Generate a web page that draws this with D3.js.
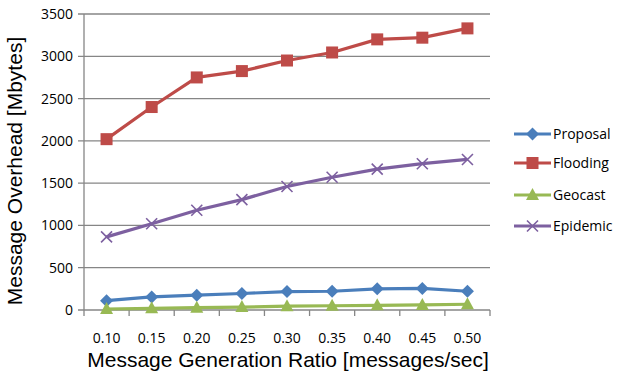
<!DOCTYPE html>
<html>
<head>
<meta charset="utf-8">
<script src="https://cdn.jsdelivr.net/npm/d3@7"></script>
<style>
  html, body { margin: 0; padding: 0; background: #fff; }
  svg { display: block; }
</style>
</head>
<body>
<svg id="chart" width="617" height="373"></svg>
<script>
// Message overhead per generation ratio
const ratios = ["0.10", "0.15", "0.20", "0.25", "0.30", "0.35", "0.40", "0.45", "0.50"];
const proposal = [110, 155, 175, 195, 218, 222, 250, 255, 222];
const flooding = [2020, 2400, 2750, 2825, 2950, 3045, 3200, 3220, 3330];
const geocast  = [12, 20, 28, 35, 45, 50, 55, 60, 68];
const epidemic = [865, 1020, 1180, 1305, 1460, 1570, 1665, 1730, 1780];
const yTicks = [0, 500, 1000, 1500, 2000, 2500, 3000, 3500];
const seriesNames = ["Proposal", "Flooding", "Geocast", "Epidemic"];

const series = [
  { name: seriesNames[0], values: proposal, color: "#4A7EBB", marker: "diamond" },
  { name: seriesNames[1], values: flooding, color: "#BE4B48", marker: "square" },
  { name: seriesNames[2], values: geocast,  color: "#98B954", marker: "triangle" },
  { name: seriesNames[3], values: epidemic, color: "#7D60A0", marker: "cross" }
];

const svg = d3.select("#chart");
const plot = { left: 84, right: 490, top: 14, bottom: 310 };

const x = d3.scaleBand().domain(ratios).range([plot.left, plot.right]);
const y = d3.scaleLinear().domain([0, 3500]).range([plot.bottom, plot.top]);

const grid = "#868686";
const labelFont = "'Open Sans', 'DejaVu Sans', sans-serif";
const titleFont = "'Liberation Sans', Arial, sans-serif";

// horizontal gridlines with short ticks left of the axis
svg.append("g").selectAll("line").data(yTicks).join("line")
  .attr("x1", plot.left - 6).attr("x2", plot.right)
  .attr("y1", d => y(d)).attr("y2", d => y(d))
  .attr("stroke", grid).attr("stroke-width", 1.3);

// vertical axis line
svg.append("line")
  .attr("x1", plot.left).attr("x2", plot.left)
  .attr("y1", plot.top).attr("y2", plot.bottom)
  .attr("stroke", grid).attr("stroke-width", 1.3);

// y tick labels
svg.append("g").selectAll("text").data(yTicks).join("text")
  .attr("x", plot.left - 11).attr("y", d => y(d))
  .attr("dy", "0.36em").attr("text-anchor", "end")
  .attr("font-family", labelFont).attr("font-size", 14).attr("fill", "#000")
  .text(d => d);

// x tick marks at band boundaries
const bounds = ratios.map(r => x(r)).concat([plot.right]);
svg.append("g").selectAll("line").data(bounds).join("line")
  .attr("x1", d => d).attr("x2", d => d)
  .attr("y1", plot.bottom).attr("y2", plot.bottom + 6)
  .attr("stroke", grid).attr("stroke-width", 1.3);

// x tick labels
svg.append("g").selectAll("text").data(ratios).join("text")
  .attr("x", d => x(d) + x.bandwidth() / 2).attr("y", 342.5)
  .attr("text-anchor", "middle")
  .attr("font-family", labelFont).attr("font-size", 14).attr("fill", "#000")
  .text(d => d);

// axis titles
svg.append("text")
  .attr("x", 288).attr("y", 366.5).attr("text-anchor", "middle")
  .attr("font-family", titleFont).attr("font-size", 21).attr("fill", "#000")
  .text("Message Generation Ratio [messages/sec]");

svg.append("text")
  .attr("transform", "translate(22,171) rotate(-90)")
  .attr("text-anchor", "middle")
  .attr("font-family", titleFont).attr("font-size", 21).attr("fill", "#000")
  .text("Message Overhead [Mbytes]");

// marker shapes
function drawMarker(g, type, color, cx, cy) {
  if (type === "diamond") {
    g.append("path").attr("d", `M${cx},${cy - 6.5}L${cx + 6.5},${cy}L${cx},${cy + 6.5}L${cx - 6.5},${cy}Z`)
      .attr("fill", color);
  } else if (type === "square") {
    g.append("rect").attr("x", cx - 6).attr("y", cy - 6).attr("width", 12).attr("height", 12)
      .attr("fill", color);
  } else if (type === "triangle") {
    g.append("path").attr("d", `M${cx},${cy - 7}L${cx + 6.5},${cy + 5}L${cx - 6.5},${cy + 5}Z`)
      .attr("fill", color);
  } else if (type === "cross") {
    g.append("path").attr("d", `M${cx - 5.5},${cy - 5.5}L${cx + 5.5},${cy + 5.5}M${cx + 5.5},${cy - 5.5}L${cx - 5.5},${cy + 5.5}`)
      .attr("stroke", color).attr("stroke-width", 1.6).attr("fill", "none");
  }
}

const line = d3.line()
  .x((d, i) => x(ratios[i]) + x.bandwidth() / 2)
  .y(d => y(d));

series.forEach(s => {
  const g = svg.append("g");
  g.append("path").attr("d", line(s.values))
    .attr("fill", "none").attr("stroke", s.color).attr("stroke-width", 3.2)
    .attr("stroke-linejoin", "round");
  s.values.forEach((v, i) => {
    drawMarker(g, s.marker, s.color, x(ratios[i]) + x.bandwidth() / 2, y(v));
  });
});

// legend
const legendRows = [134, 163, 195, 226];
series.forEach((s, i) => {
  const g = svg.append("g");
  const ly = legendRows[i];
  g.append("line").attr("x1", 514).attr("x2", 551).attr("y1", ly).attr("y2", ly)
    .attr("stroke", s.color).attr("stroke-width", 3.2);
  drawMarker(g, s.marker, s.color, 532.5, ly);
  g.append("text").attr("x", 553).attr("y", ly).attr("dy", "0.36em")
    .attr("font-family", labelFont).attr("font-size", 14).attr("fill", "#000")
    .text(s.name);
});
</script>
</body>
</html>
